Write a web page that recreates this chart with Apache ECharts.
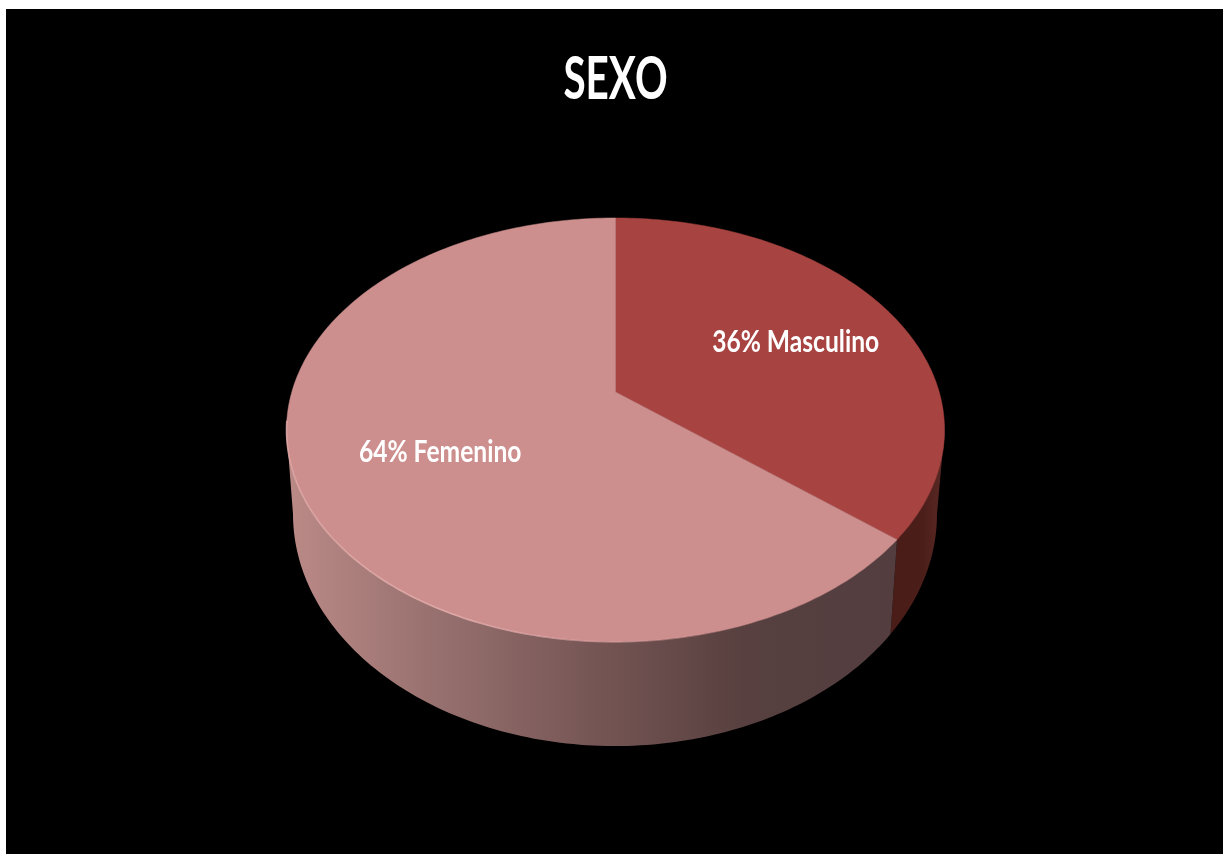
<!DOCTYPE html>
<html>
<head>
<meta charset="utf-8">
<title>SEXO</title>
<style>html,body{margin:0;padding:0;background:#fff}#chart{width:1225px;height:854px}</style>
<script src="https://cdn.jsdelivr.net/npm/echarts@6/dist/echarts.min.js"></script>
</head>
<body>
<div id="chart"></div>
<script>
// Survey breakdown by sex
const titleText = 'SEXO';
const categories = ['Masculino', 'Femenino'];
const percentages = [36, 64];
const faceColors = ['#a74340', '#cd8e8e'];

// Perspective disc: the top and bottom rims are projected separately
const topRim = { cx: 615.5, cy: 392, rx: 323.7, ry: 205.2, k: 0.179 };
const bottomRim = { cx: 615, cy: 472.5, rx: 316.8, ry: 224.6, k: 0.179 };
const labelAnchor = { Masculino: { r: 0.635, turn: 1.6 }, Femenino: { r: 0.585, turn: -3.2 } };

function project(rim, deg, r) {
  const t = deg * Math.PI / 180, fr = r === undefined ? 1 : r;
  const w = 1 / (1 + rim.k * fr * Math.cos(t));
  return [rim.cx + rim.rx * fr * Math.sin(t) * w, rim.cy - rim.ry * fr * Math.cos(t) * w];
}
function arc(rim, from, to) {
  const pts = [], n = Math.max(2, Math.ceil(Math.abs(to - from)));
  for (let i = 0; i <= n; i++) pts.push(project(rim, from + (to - from) * i / n));
  return pts;
}

const total = percentages.reduce((a, b) => a + b, 0);
const wallFrom = Math.acos(-topRim.k) * 180 / Math.PI;
const wallTo = 360 - wallFrom;

const wallFills = [
  new echarts.graphic.LinearGradient(0, 0, 1, 0, [
    { offset: 0, color: '#4a1c18' }, { offset: 0.6, color: '#4c1e1a' }, { offset: 1, color: '#592925' }
  ]),
  new echarts.graphic.LinearGradient(1, 0, 0, 0, [
    { offset: 0, color: '#533d3f' }, { offset: 0.25, color: '#57403f' }, { offset: 0.5, color: '#765655' },
    { offset: 0.75, color: '#96706e' }, { offset: 1, color: '#bb8a87' }
  ])
];

function renderSlice(params, api) {
  const i = params.dataIndex;
  const before = percentages.slice(0, i).reduce((a, b) => a + b, 0);
  const start = before / total * 360;
  const end = (before + api.value(0)) / total * 360;
  const mid = (start + end) / 2;
  const children = [];

  const a = Math.max(start, wallFrom), b = Math.min(end, wallTo);
  if (b > a) {
    children.push({
      type: 'polygon',
      shape: { points: arc(topRim, a, b).concat(arc(bottomRim, b, a)) },
      style: { fill: wallFills[i] }
    });
  }
  children.push({
    type: 'polygon',
    shape: { points: [[topRim.cx, topRim.cy]].concat(arc(topRim, start, end)) },
    style: { fill: faceColors[i], stroke: faceColors[i], lineWidth: 0.5 }
  });
  if (i === 1) {
    // Soft light catching the near edge of the disc
    children.push({
      type: 'polyline',
      shape: { points: arc(topRim, 165, 262) },
      style: {
        fill: null, lineWidth: 1.6, lineCap: 'round',
        stroke: new echarts.graphic.LinearGradient(1, 0, 0, 0, [
          { offset: 0, color: 'rgba(232,178,176,0)' }, { offset: 0.6, color: 'rgba(232,178,176,0.8)' }, { offset: 1, color: 'rgba(232,178,176,0.7)' }
        ])
      }
    });
  }
  const anchor = labelAnchor[categories[i]];
  const p = project(topRim, mid + anchor.turn, anchor.r);
  children.push({
    type: 'text', x: p[0], y: p[1], scaleX: 1.025, scaleY: 1.27,
    style: {
      text: api.value(0) + '% ' + categories[i],
      x: 0, y: 0, align: 'center', verticalAlign: 'middle',
      fill: '#fff', font: 'bold 24px Lato'
    }
  });
  return { type: 'group', children };
}

const chart = echarts.init(document.getElementById('chart'));
chart.setOption({
  animation: false,
  backgroundColor: '#fff',
  graphic: [
    { type: 'rect', z: -1, shape: { x: 6, y: 9, width: 1217, height: 845 }, style: { fill: '#000' } },
    {
      type: 'text', z: 5, x: 615.5, y: 80, scaleX: 0.88, scaleY: 1.3,
      style: { text: titleText, x: 0, y: 0, align: 'center', verticalAlign: 'middle', fill: '#fff', font: 'bold 46px Lato' }
    }
  ],
  series: [{
    type: 'custom',
    coordinateSystem: 'none',
    renderItem: renderSlice,
    data: percentages.map((v, i) => ({ name: categories[i], value: [v] }))
  }]
});
</script>
</body>
</html>
